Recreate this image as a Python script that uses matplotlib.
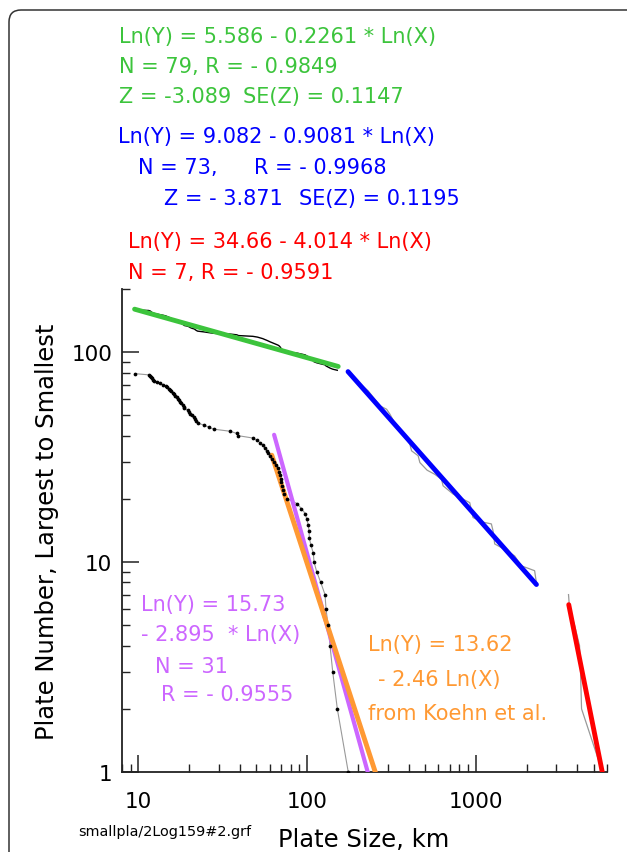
import numpy as np
import matplotlib
matplotlib.use("Agg")
import matplotlib.pyplot as plt
from matplotlib.patches import FancyBboxPatch
from matplotlib.ticker import LogLocator, FuncFormatter, NullFormatter
from matplotlib.transforms import IdentityTransform

# ---------------- data ----------------
# small plates: rank (79 -> 1) and plate size (km)
small_rank = list(range(79, 0, -1))
small_size = [9.60, 11.51, 11.78, 11.89, 11.99, 12.15, 12.43, 12.90, 13.37, 14.00,
              14.50, 14.78, 15.11, 15.32, 15.61, 15.96, 16.33, 16.56, 16.94, 17.18,
              17.48, 17.73, 17.96, 18.29, 18.53, 18.72, 19.57, 20.03, 20.31, 20.78,
              21.45, 21.74, 22.04, 22.43, 24.34, 26.06, 27.90, 35.03, 38.37, 39.22,
              47.72, 50.81, 52.71, 54.69, 56.05, 57.60, 59.02, 60.41, 62.08, 63.79,
              65.56, 67.37, 68.49, 69.23, 69.70, 70.47, 71.15, 72.11, 73.40, 76.16,
              87.27, 92.54, 97.70, 99.59, 101.78, 102.76, 103.18, 105.61, 108.97, 110.01,
              114.13, 120.53, 127.80, 129.55, 133.15, 136.83, 141.98, 151.16, 175.5]
# number of larger plates ranked above the small ones
n_larger = 80

# middle plates (N = 73): outline of the ranked curve
mid_size = [172.5, 230.5, 270.4, 296.1, 309.8, 331.6, 406.9, 416.4, 455.7, 466.4,
            515.0, 571.9, 626.6, 640.4, 734.0, 921.5, 963.8, 1104.6, 1238, 1266,
            1295.7, 1484, 1701, 1864, 2234, 2287]
mid_rank = [80, 65.4, 55.5, 53.5, 50.7, 45.8, 36.5, 33.9, 32.1, 29.8,
            27.4, 26.2, 24.8, 23.1, 21.1, 19.2, 16.3, 15.5, 15.2, 14.1,
            12.2, 11.5, 10.7, 9.6, 9.1, 8.0]

# largest plates (N = 7)
large_rank = [7, 6, 5, 4, 3, 2, 1]
large_size = [3548, 3600, 3853, 4124, 4181, 4239, 5640]

# fits: Ln(Y) = a + b Ln(X), drawn over [x0, x1]
green_fit = (5.586, -0.2261, 9.5, 153)
blue_fit = (9.082, -0.9081, 175, 2290)
red_fit = (34.66, -4.014, 3560, 5700)
purple_fit = (15.73, -2.895, 63.8, 240)
orange_fit = (13.62, -2.46, 61.8, 260)

GREEN = '#3cc43c'
BLUE = '#0000ff'
RED = '#ff0000'
PURPLE = '#cc66ff'
ORANGE = '#ff9933'

# ---------------- figure ----------------
W, H = 627, 853
plt.rcParams['font.family'] = ['DejaVu Sans']
fig = plt.figure(figsize=(W / 100, H / 100), dpi=100)

frame = FancyBboxPatch((9, -30), 660, H - 11 + 30,
                       boxstyle="round,pad=0,rounding_size=12",
                       transform=IdentityTransform(), fill=False,
                       edgecolor='#333333', linewidth=1.1)
fig.add_artist(frame)

ax = fig.add_axes([122 / W, 1 - 773 / H, (607 - 122) / W, (773 - 290) / H])
ax.set_xscale('log')
ax.set_yscale('log')
ax.set_xlim(8, 6000)
ax.set_ylim(1, 200)

for s in ['top', 'right']:
    ax.spines[s].set_visible(False)
for s in ['left', 'bottom']:
    ax.spines[s].set_linewidth(1.3)
    ax.spines[s].set_color('#222222')

fmt = FuncFormatter(lambda v, p: f"{v:g}")
for axis in (ax.xaxis, ax.yaxis):
    axis.set_major_locator(LogLocator(base=10))
    axis.set_minor_locator(LogLocator(base=10, subs=np.arange(2, 10)))
    axis.set_major_formatter(fmt)
    axis.set_minor_formatter(NullFormatter())
ax.tick_params(which='major', direction='in', length=12, width=1.1,
               labelsize=15.5, color='#222222')
ax.tick_params(which='minor', direction='in', length=6, width=1.0, color='#222222')
ax.tick_params(axis='y', which='major', pad=7)
ax.tick_params(axis='x', which='major', pad=14)

# data
ax.plot(small_size[:-1], [r + n_larger for r in small_rank[:-1]],
        color='black', lw=1.0, zorder=2)
ax.plot(mid_size, mid_rank, color='#999999', lw=0.9, zorder=2)
ax.plot(large_size, large_rank, color='#999999', lw=0.9, zorder=2)
ax.plot(small_size, small_rank, color='#999999', lw=0.8, zorder=2)


def fit_line(fit, color, lw, z):
    a, b, x0, x1 = fit
    xs = np.array([x0, x1])
    ax.plot(xs, np.exp(a + b * np.log(xs)), color=color, lw=lw,
            solid_capstyle='round', zorder=z)


fit_line(green_fit, GREEN, 3.5, 3)
fit_line(blue_fit, BLUE, 3.5, 3)
fit_line(red_fit, RED, 3.5, 3)
fit_line(purple_fit, PURPLE, 3.0, 3)
fit_line(orange_fit, ORANGE, 3.5, 4)

ax.plot(small_size, small_rank, 'o', color='black', ms=2.7, mew=0, zorder=5)


def ftext(x, y, s, color, size=15, **kw):
    fig.text(x / W, 1 - y / H, s, color=color, fontsize=size,
             ha=kw.pop('ha', 'left'), va='center', **kw)


ftext(119, 37, "Ln(Y) = 5.586 - 0.2261 * Ln(X)", GREEN)
ftext(119, 67, "N = 79, R = - 0.9849", GREEN)
ftext(119, 97, "Z = -3.089", GREEN)
ftext(243, 97, "SE(Z) = 0.1147", GREEN)

ftext(118, 137, "Ln(Y) = 9.082 - 0.9081 * Ln(X)", BLUE)
ftext(138, 168, "N = 73,", BLUE)
ftext(254, 168, "R = - 0.9968", BLUE)
ftext(164, 199, "Z = - 3.871", BLUE)
ftext(299, 199, "SE(Z) = 0.1195", BLUE)

ftext(128, 242, "Ln(Y) = 34.66 - 4.014 * Ln(X)", RED)
ftext(128, 273, "N = 7, R = - 0.9591", RED)

ftext(141, 605, "Ln(Y) = 15.73", PURPLE)
ftext(141, 635, "- 2.895  * Ln(X)", PURPLE)
ftext(155, 667, "N = 31", PURPLE)
ftext(161, 695, "R = - 0.9555", PURPLE)

ftext(368, 645, "Ln(Y) = 13.62", ORANGE)
ftext(378, 680, "- 2.46 Ln(X)", ORANGE)
ftext(368, 714, "from Koehn et al.", ORANGE)

ftext(78, 832, "smallpla/2Log159#2.grf", 'black', size=10.4)
ftext(364, 840, "Plate Size, km", 'black', size=17.5, ha='center')
fig.text(47 / W, 1 - 532 / H, "Plate Number, Largest to Smallest", color='black',
         fontsize=17.5, rotation=90, ha='center', va='center')

fig.savefig('out.png', dpi=100)
